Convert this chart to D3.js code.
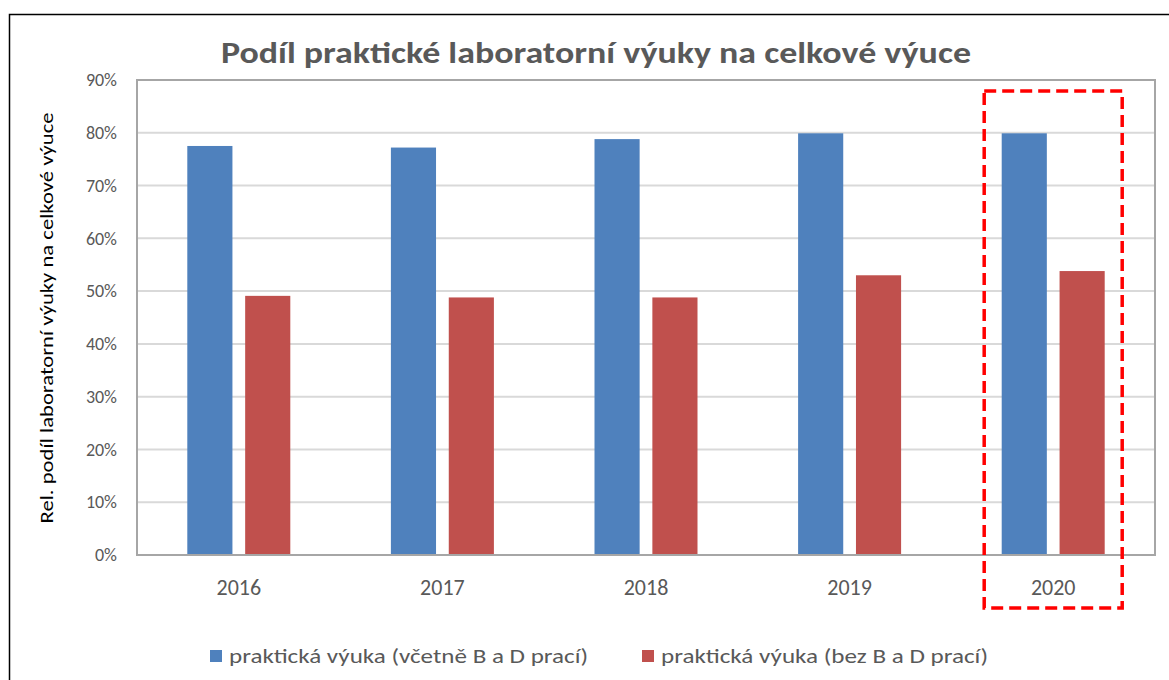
<!DOCTYPE html>
<html>
<head>
<meta charset="utf-8">
<script src="https://cdn.jsdelivr.net/npm/d3@7"></script>
<style>
  body { margin: 0; background: #fff; }
  svg { display: block; font-family: Carlito, Lato, "Open Sans", sans-serif; }
</style>
</head>
<body>
<div id="chart"></div>
<script>
// data
var years = ["2016", "2017", "2018", "2019", "2020"];
var seriesNames = ["praktická výuka (včetně B a D prací)", "praktická výuka (bez B a D prací)"];
var withBD = [0.775, 0.772, 0.788, 0.799, 0.799];
var withoutBD = [0.491, 0.488, 0.488, 0.530, 0.538];
var yTicks = [0, 0.1, 0.2, 0.3, 0.4, 0.5, 0.6, 0.7, 0.8, 0.9];
var highlightYear = "2020";

var colors = ["#4f81bd", "#c0504d"];
var W = 1169, H = 680;
var margin = { left: 137, right: 14, top: 80, bottom: 125 };

var svg = d3.select("#chart").append("svg").attr("width", W).attr("height", H);

// outer frame (cut off at right and bottom)
svg.append("rect").attr("x", 9.5).attr("y", 14.5).attr("width", W).attr("height", H)
    .attr("fill", "none").attr("stroke", "#000").attr("stroke-width", 1.5);

var x0 = d3.scaleBand().domain(years).range([margin.left, W - margin.right]);
var x1 = d3.scaleBand().domain([0, 1]).range([0, 103]).paddingInner(0.22);
var y = d3.scaleLinear().domain([0, 0.9]).range([H - margin.bottom, margin.top]);

var g = svg.append("g");

// gridlines
g.selectAll("line.grid").data(yTicks).enter().append("line")
    .attr("class", "grid")
    .attr("x1", margin.left).attr("x2", W - margin.right)
    .attr("y1", function (d) { return y(d); }).attr("y2", function (d) { return y(d); })
    .attr("stroke", "#d9d9d9").attr("stroke-width", 2);

// plot border
svg.append("rect")
    .attr("x", margin.left).attr("y", margin.top)
    .attr("width", W - margin.right - margin.left).attr("height", y(0) - margin.top)
    .attr("fill", "none").attr("stroke", "#a6a6a6").attr("stroke-width", 2);

// y axis labels
var yAxis = d3.axisLeft(y).tickValues(yTicks).tickFormat(d3.format(".0%")).tickSize(0).tickPadding(20);
var ya = svg.append("g").attr("transform", "translate(" + margin.left + ",0)").call(yAxis);
ya.select(".domain").remove();
ya.selectAll("text").attr("fill", "#595959").style("font-size", "18px").style("font-family", "Carlito, Lato, sans-serif");

// x axis labels
var xAxis = d3.axisBottom(x0).tickSize(0).tickPadding(24);
var xa = svg.append("g").attr("transform", "translate(0," + y(0) + ")").call(xAxis);
xa.select(".domain").remove();
xa.selectAll("text").attr("fill", "#595959").style("font-size", "22px").style("font-family", "Carlito, Lato, sans-serif");

// bars
var rows = years.map(function (yr, i) { return { year: yr, vals: [withBD[i], withoutBD[i]] }; });
var groups = g.selectAll("g.year").data(rows).enter().append("g")
    .attr("class", "year")
    .attr("transform", function (d) { return "translate(" + (x0(d.year) + x0.bandwidth() / 2 - 51.5) + ",0)"; });
groups.selectAll("rect").data(function (d) { return d.vals; }).enter().append("rect")
    .attr("x", function (d, i) { return x1(i); })
    .attr("width", x1.bandwidth())
    .attr("y", function (d) { return y(d); })
    .attr("height", function (d) { return y(0) - y(d); })
    .attr("fill", function (d, i) { return colors[i]; });

// red dashed highlight box
var hx = x0(highlightYear) + x0.bandwidth() / 2;
svg.append("rect")
    .attr("x", hx - 69).attr("y", 91)
    .attr("width", 138).attr("height", 517)
    .attr("fill", "none").attr("stroke", "#ff0000").attr("stroke-width", 3.5)
    .attr("stroke-dasharray", "12,6");

// title
svg.append("text")
    .attr("x", 596).attr("y", 63)
    .attr("text-anchor", "middle")
    .attr("fill", "#595959")
    .style("font-size", "30px").style("font-weight", "bold")
    .attr("textLength", 750).attr("lengthAdjust", "spacingAndGlyphs")
    .text("Podíl praktické laboratorní výuky na celkové výuce");

// y axis title
svg.append("text")
    .attr("transform", "translate(53,318) rotate(-90)")
    .attr("text-anchor", "middle")
    .attr("fill", "#000")
    .style("font-size", "19px")
    .attr("textLength", 411).attr("lengthAdjust", "spacingAndGlyphs")
    .text("Rel. podíl laboratorní výuky na celkové výuce");

// legend
var legendPos = [{ x: 210, w: 359 }, { x: 642, w: 327 }];
var lg = svg.selectAll("g.legend").data(seriesNames).enter().append("g")
    .attr("class", "legend")
    .attr("transform", function (d, i) { return "translate(" + legendPos[i].x + ",650)"; });
lg.append("rect").attr("width", 12).attr("height", 12)
    .attr("fill", function (d, i) { return colors[i]; });
lg.append("text")
    .attr("x", 19).attr("y", 13)
    .attr("fill", "#595959")
    .style("font-size", "20px")
    .attr("textLength", function (d, i) { return legendPos[i].w; })
    .attr("lengthAdjust", "spacingAndGlyphs")
    .text(function (d) { return d; });
</script>
</body>
</html>
